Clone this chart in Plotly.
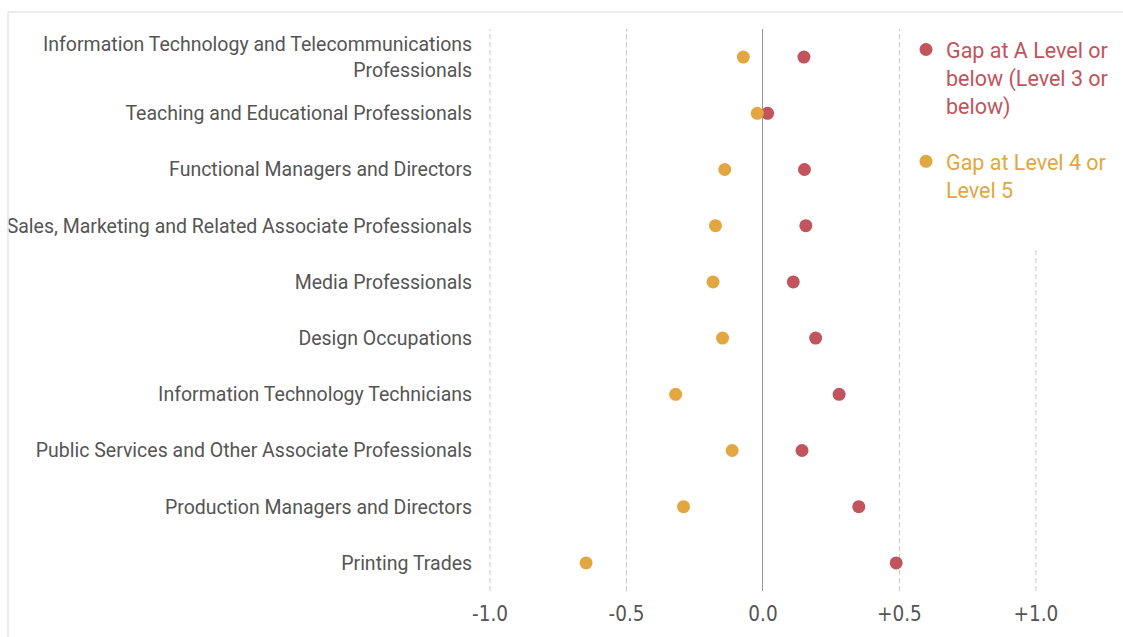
import plotly.graph_objects as go

categories = [
    "Information Technology and Telecommunications<br>Professionals",
    "Teaching and Educational Professionals",
    "Functional Managers and Directors",
    "Sales, Marketing and Related Associate Professionals",
    "Media Professionals",
    "Design Occupations",
    "Information Technology Technicians",
    "Public Services and Other Associate Professionals",
    "Production Managers and Directors",
    "Printing Trades",
]
gap_level3 = [0.150, 0.017, 0.152, 0.157, 0.111, 0.193, 0.279, 0.143, 0.351, 0.488]
gap_level45 = [-0.072, -0.021, -0.140, -0.174, -0.183, -0.148, -0.320, -0.113, -0.291, -0.648]

tick_vals = [-1.0, -0.5, 0.0, 0.5, 1.0]
tick_text = ["-1.0", "-0.5", "0.0", "+0.5", "+1.0"]

series_names = ["Gap at A Level or<br>below (Level 3 or<br>below)", "Gap at Level 4 or<br>Level 5"]

RED = "#c1545c"
ORANGE = "#e2a740"
FONT = "Roboto"

W, H = 1123, 637
ML, MR, MT, MB = 480, 3, 29, 46
pw, ph = W - ML - MR, H - MT - MB

def px(x):
    return (x - ML) / pw

def py(y):
    return (H - MB - y) / ph

def colored(name, color):
    return "<br>".join(f"<span style='color:{color}'>{part}</span>" for part in name.split("<br>"))

fig = go.Figure()
fig.add_trace(go.Scatter(
    x=gap_level3, y=categories, mode="markers",
    name=colored(series_names[0], RED), legendgroup="a",
    marker=dict(color=RED, size=13),
))
fig.add_trace(go.Scatter(
    x=gap_level45, y=categories, mode="markers",
    name=colored(series_names[1], ORANGE), legendgroup="b",
    marker=dict(color=ORANGE, size=13),
))

# dashed grid lines at the non-zero ticks, drawn as shapes so the legend area can mask them
shapes = []
for v in tick_vals:
    if v != 0:
        shapes.append(dict(type="line", xref="x", yref="paper", layer="below",
                           x0=v, x1=v, y0=0, y1=1,
                           line=dict(color="#c8c8c8", width=1, dash="5px,3px")))
shapes += [
    dict(type="rect", xref="paper", yref="paper", layer="below",
         x0=px(915), x1=1, y0=py(250), y1=1,
         fillcolor="white", line=dict(width=0)),
    dict(type="line", xref="paper", yref="paper",
         x0=px(8), x1=px(1123), y0=py(12), y1=py(12),
         line=dict(color="#e6e6e6", width=1.5)),
    dict(type="line", xref="paper", yref="paper",
         x0=px(8), x1=px(8), y0=py(12), y1=py(637),
         line=dict(color="#e6e6e6", width=1.5)),
]

fig.update_layout(
    template="none",
    width=W, height=H,
    margin=dict(l=ML, r=MR, t=MT, b=MB, autoexpand=False),
    paper_bgcolor="white", plot_bgcolor="white",
    font=dict(family=FONT, color="#555555"),
    showlegend=True,
    legend=dict(
        x=px(906), y=py(29), xanchor="left", yanchor="top",
        bgcolor="rgba(0,0,0,0)", valign="top",
        font=dict(size=21.5, family=FONT),
        tracegroupgap=25, itemwidth=30,
    ),
    xaxis=dict(
        range=[-1.0367, 1.308],
        tickvals=tick_vals, ticktext=tick_text,
        tickfont=dict(size=20.5, color="#555555",
                      family="Liberation Sans Narrow, DejaVu Sans Condensed, Roboto"),
        showgrid=False,
        zeroline=True, zerolinecolor="#999999", zerolinewidth=1,
        showline=False, ticks="outside", ticklen=4, tickcolor="rgba(0,0,0,0)",
        automargin=False, fixedrange=True,
    ),
    yaxis=dict(
        categoryorder="array", categoryarray=categories,
        range=[len(categories) - 0.5, -0.5],
        tickfont=dict(size=19.5, color="#555555"),
        showgrid=False, zeroline=False, showline=False,
        ticks="outside", ticklen=3, tickcolor="rgba(0,0,0,0)",
        automargin=False, fixedrange=True,
    ),
    shapes=shapes,
)

fig.write_html(
    "out.html",
    config={"displayModeBar": False},
    post_script="document.body.style.margin='0';document.body.style.overflow='hidden';",
)
